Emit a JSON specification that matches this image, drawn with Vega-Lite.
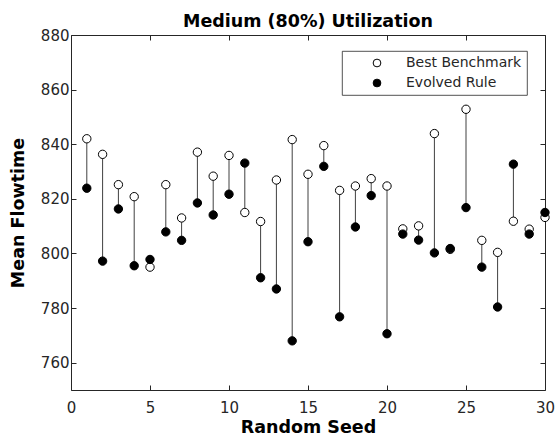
{
  "$schema": "https://vega.github.io/schema/vega-lite/v6.json",
  "width": 474,
  "height": 355,
  "autosize": "none",
  "padding": {"left": 71, "top": 35, "right": 10, "bottom": 45},
  "background": "white",
  "title": {"text": "Medium (80%) Utilization", "font": "DejaVu Sans", "fontSize": 17.5, "fontWeight": "bold", "color": "#000000", "anchor": "middle", "frame": "group", "baseline": "alphabetic", "offset": 8, "dy": 24},
  "data": {"values": [
    {"seed": 1, "Best Benchmark": 842.0, "Evolved Rule": 823.9},
    {"seed": 2, "Best Benchmark": 836.3, "Evolved Rule": 797.2},
    {"seed": 3, "Best Benchmark": 825.2, "Evolved Rule": 816.3},
    {"seed": 4, "Best Benchmark": 820.8, "Evolved Rule": 795.5},
    {"seed": 5, "Best Benchmark": 795.0, "Evolved Rule": 797.8},
    {"seed": 6, "Best Benchmark": 825.2, "Evolved Rule": 807.9},
    {"seed": 7, "Best Benchmark": 813.0, "Evolved Rule": 804.8},
    {"seed": 8, "Best Benchmark": 837.1, "Evolved Rule": 818.5},
    {"seed": 9, "Best Benchmark": 828.3, "Evolved Rule": 814.1},
    {"seed": 10, "Best Benchmark": 835.9, "Evolved Rule": 821.7},
    {"seed": 11, "Best Benchmark": 815.0, "Evolved Rule": 833.1},
    {"seed": 12, "Best Benchmark": 811.7, "Evolved Rule": 791.1},
    {"seed": 13, "Best Benchmark": 826.9, "Evolved Rule": 787.0},
    {"seed": 14, "Best Benchmark": 841.7, "Evolved Rule": 768.0},
    {"seed": 15, "Best Benchmark": 829.0, "Evolved Rule": 804.3},
    {"seed": 16, "Best Benchmark": 839.5, "Evolved Rule": 831.9},
    {"seed": 17, "Best Benchmark": 823.1, "Evolved Rule": 776.8},
    {"seed": 18, "Best Benchmark": 824.7, "Evolved Rule": 809.7},
    {"seed": 19, "Best Benchmark": 827.4, "Evolved Rule": 821.2},
    {"seed": 20, "Best Benchmark": 824.7, "Evolved Rule": 770.6},
    {"seed": 21, "Best Benchmark": 809.0, "Evolved Rule": 807.1},
    {"seed": 22, "Best Benchmark": 810.1, "Evolved Rule": 804.9},
    {"seed": 23, "Best Benchmark": 843.9, "Evolved Rule": 800.2},
    {"seed": 24, "Best Benchmark": 801.5, "Evolved Rule": 801.8},
    {"seed": 25, "Best Benchmark": 852.8, "Evolved Rule": 816.8},
    {"seed": 26, "Best Benchmark": 804.8, "Evolved Rule": 795.0},
    {"seed": 27, "Best Benchmark": 800.4, "Evolved Rule": 780.4},
    {"seed": 28, "Best Benchmark": 811.8, "Evolved Rule": 832.7},
    {"seed": 29, "Best Benchmark": 808.9, "Evolved Rule": 807.1},
    {"seed": 30, "Best Benchmark": 813.2, "Evolved Rule": 815.0}
  ]},
  "config": {
    "view": {"stroke": "#262626", "strokeWidth": 1},
    "font": "DejaVu Sans",
    "axis": {
      "grid": false,
      "domain": false,
      "tickSize": -5,
      "tickColor": "#262626",
      "tickWidth": 1,
      "labelFlush": false,
      "labelColor": "#262626",
      "labelFont": "DejaVu Sans",
      "labelFontSize": 15,
      "titleFont": "DejaVu Sans",
      "titleFontSize": 17.5,
      "titleFontWeight": "bold",
      "titleColor": "#000000"
    },
    "legend": {
      "orient": "none",
      "legendX": 271,
      "legendY": 16,
      "strokeColor": "#262626",
      "strokeWidth": 0.8,
      "fillColor": "white",
      "padding": 5,
      "symbolOffset": 23,
      "symbolSize": 60,
      "symbolStrokeColor": "#000000",
      "symbolStrokeWidth": 1,
      "labelFont": "DejaVu Sans",
      "labelFontSize": 14,
      "labelColor": "#262626",
      "labelOffset": 22,
      "rowPadding": 6,
      "title": null
    }
  },
  "layer": [
    {
      "mark": {"type": "rule", "color": "#404040", "strokeWidth": 1},
      "encoding": {
        "x": {"field": "seed", "type": "quantitative",
              "scale": {"domain": [0, 30], "nice": false, "zero": false},
              "axis": {"orient": "bottom", "values": [0, 5, 10, 15, 20, 25, 30], "title": "Random Seed", "labelPadding": 15, "titlePadding": 3}},
        "y": {"field": "Best Benchmark", "type": "quantitative",
              "scale": {"domain": [750, 880], "nice": false, "zero": false},
              "axis": {"orient": "left", "values": [760, 780, 800, 820, 840, 860, 880], "title": "Mean Flowtime", "labelPadding": 7, "titlePadding": 13}},
        "y2": {"field": "Evolved Rule"}
      }
    },
    {
      "transform": [{"fold": ["Best Benchmark", "Evolved Rule"], "as": ["series", "value"]}],
      "mark": {"type": "point", "filled": true, "stroke": "#000000", "strokeWidth": 1, "size": 70, "opacity": 1},
      "encoding": {
        "x": {"field": "seed", "type": "quantitative",
              "axis": {"orient": "top", "values": [0, 5, 10, 15, 20, 25, 30], "labels": false, "title": null}},
        "y": {"field": "value", "type": "quantitative",
              "axis": {"orient": "right", "values": [760, 780, 800, 820, 840, 860, 880], "labels": false, "title": null}},
        "fill": {"field": "series", "type": "nominal",
                 "scale": {"domain": ["Best Benchmark", "Evolved Rule"], "range": ["#ffffff", "#000000"]},
                 "legend": {"title": null}}
      }
    }
  ],
  "resolve": {"axis": {"x": "independent", "y": "independent"}}
}
